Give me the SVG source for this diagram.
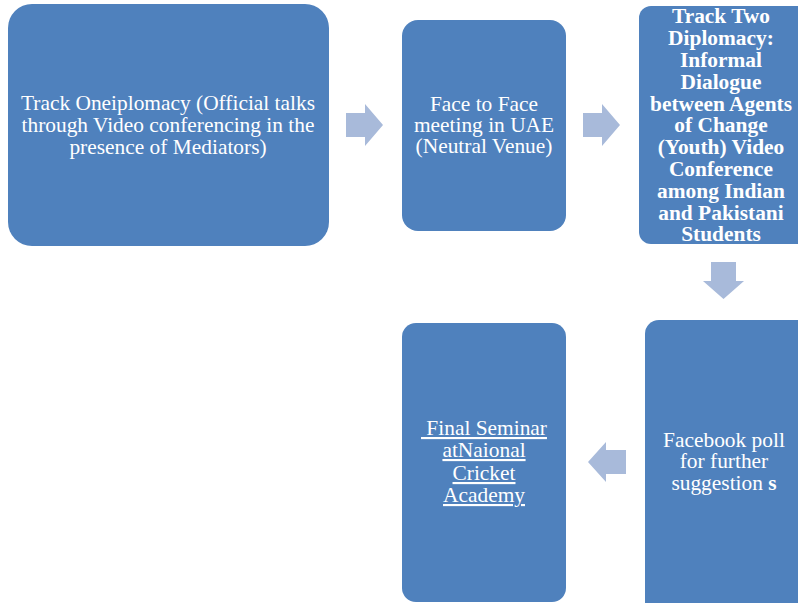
<svg xmlns="http://www.w3.org/2000/svg" width="798" height="603" viewBox="0 0 798 603">
<style>
.box{fill:#4F81BD;}
.arr{fill:#A8BADA;}
text{font-family:"Liberation Serif","Times New Roman",serif;font-size:21.4px;fill:#FFFFFF;text-anchor:middle;}
.b{font-weight:bold;}
.u{text-decoration:underline;}
</style>
<rect width="798" height="603" fill="#FFFFFF"/>
<g id="connectors">
<polygon class="arr" points="346,113 365,113 365,104 383,125 365,146 365,137 346,137"/>
<polygon class="arr" points="583,113 602,113 602,104 620,125 602,146 602,137 583,137"/>
<polygon class="arr" points="711,262 736,262 736,281 744,281 723.5,299 703,281 711,281"/>
<polygon class="arr" points="626,450 606,450 606,442 588,462 606,482 606,474 626,474"/>
</g>
<g id="node1">
<rect class="box" x="8" y="4" width="321" height="242" rx="24"/>
<text x="168" y="110">Track Oneiplomacy (Official talks</text>
<text x="168" y="132">through Video conferencing in the</text>
<text x="168" y="154">presence of Mediators)</text>
</g>
<g id="node2">
<rect class="box" x="402" y="20" width="164" height="211" rx="16"/>
<text x="484" y="111">Face to Face</text>
<text x="484" y="132">meeting in UAE</text>
<text x="484" y="153">(Neutral Venue)</text>
</g>
<g id="node3">
<rect class="box" x="639" y="6" width="175" height="238" rx="12"/>
<text class="b" x="721" y="23">Track Two</text>
<text class="b" x="721" y="45">Diplomacy:</text>
<text class="b" x="721" y="67">Informal</text>
<text class="b" x="721" y="89">Dialogue</text>
<text class="b" x="721" y="111">between Agents</text>
<text class="b" x="721" y="132">of Change</text>
<text class="b" x="721" y="154">(Youth) Video</text>
<text class="b" x="721" y="176">Conference</text>
<text class="b" x="721" y="198">among Indian</text>
<text class="b" x="721" y="220">and Pakistani</text>
<text class="b" x="721" y="241">Students</text>
</g>
<g id="node4">
<rect class="box" x="645" y="320" width="170" height="300" rx="14"/>
<text x="724" y="447">Facebook poll</text>
<text x="724" y="468">for further</text>
<text x="724" y="490">suggestion <tspan class="b">s</tspan></text>
</g>
<g id="node5">
<rect class="box" x="402" y="323" width="164" height="279" rx="14"/>
<text class="u" x="484" y="435" xml:space="preserve"> Final Seminar</text>
<text class="u" x="484" y="457">atNaional</text>
<text class="u" x="484" y="480">Cricket</text>
<text class="u" x="484" y="502">Academy</text>
</g>
</svg>
